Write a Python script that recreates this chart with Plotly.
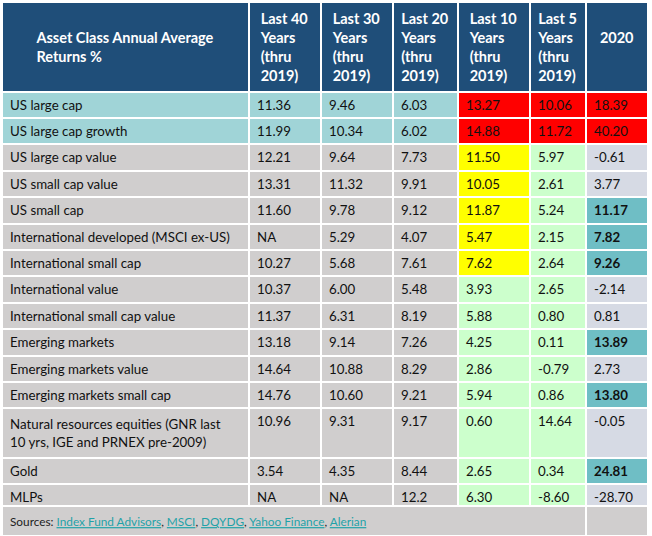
import plotly.graph_objects as go

# table data
asset_classes = [
    "US large cap", "US large cap growth", "US large cap value", "US small cap value",
    "US small cap", "International developed (MSCI ex-US)", "International small cap",
    "International value", "International small cap value", "Emerging markets",
    "Emerging markets value", "Emerging markets small cap",
    "Natural resources equities (GNR last<br>10 yrs, IGE and PRNEX pre-2009)",
    "Gold", "MLPs",
]
last40 = ["11.36", "11.99", "12.21", "13.31", "11.60", "NA", "10.27", "10.37", "11.37",
          "13.18", "14.64", "14.76", "10.96", "3.54", "NA"]
last30 = ["9.46", "10.34", "9.64", "11.32", "9.78", "5.29", "5.68", "6.00", "6.31",
          "9.14", "10.88", "10.60", "9.31", "4.35", "NA"]
last20 = ["6.03", "6.02", "7.73", "9.91", "9.12", "4.07", "7.61", "5.48", "8.19",
          "7.26", "8.29", "9.21", "9.17", "8.44", "12.2"]
last10 = ["13.27", "14.88", "11.50", "10.05", "11.87", "5.47", "7.62", "3.93", "5.88",
          "4.25", "2.86", "5.94", "0.60", "2.65", "6.30"]
last5 = ["10.06", "11.72", "5.97", "2.61", "5.24", "2.15", "2.64", "2.65", "0.80",
         "0.11", "-0.79", "0.86", "14.64", "0.34", "-8.60"]
y2020 = ["18.39", "40.20", "-0.61", "3.77", "11.17", "7.82", "9.26", "-2.14", "0.81",
         "13.89", "2.73", "13.80", "-0.05", "24.81", "-28.70"]

headers = ["\u00a0<br>Asset Class Annual Average<br>Returns %",
           "Last 40<br>Years<br>(thru<br>2019)", "Last 30<br>Years<br>(thru<br>2019)",
           "Last 20<br>Years<br>(thru<br>2019)", "Last 10<br>Years<br>(thru<br>2019)",
           "Last 5<br>Years<br>(thru<br>2019)", "\u00a0<br>2020"]

sources = ["Index Fund Advisors", "MSCI", "DQYDG", "Yahoo Finance", "Alerian"]

# styling
navy = "#1F4E79"
light_teal = "#A0D4D7"
gray = "#D0CECE"
red = "#FF0000"
yellow = "#FFFF00"
green = "#CCFFCC"
lavender = "#D6DAE4"
teal = "#6FBEC5"
link = "#1FA2A8"

top_rows = 2          # rows shaded teal / red
yellow_rows = 7       # "Last 10" rows shaded yellow
bold_2020 = [4, 5, 6, 9, 11, 13]

n = len(asset_classes)
base_fill = [light_teal if i < top_rows else gray for i in range(n)]
fill10 = [red if i < top_rows else (yellow if i < yellow_rows else green) for i in range(n)]
fill5 = [red if i < top_rows else green for i in range(n)]
fill20 = [red if i < top_rows else (teal if i in bold_2020 else lavender) for i in range(n)]
normal = ["normal"] * n
weight2020 = ["bold" if i in bold_2020 else "normal" for i in range(n)]

font_family = "Lato, Carlito, Calibri, sans-serif"
split = 30 / 536  # sources row at the bottom

fig = go.Figure()
fig.add_trace(go.Table(
    domain={"x": [0, 1], "y": [split, 1]},
    columnwidth=[247, 72, 72, 65, 72, 56, 62],
    header={
        "values": headers,
        "fill": {"color": navy},
        "line": {"color": "white", "width": 2},
        "align": "center",
        "font": {"family": font_family, "size": 14.5, "color": "white", "weight": "bold"},
        "height": 88,
    },
    cells={
        "values": [asset_classes, last40, last30, last20, last10, last5, y2020],
        "fill": {"color": [base_fill, base_fill, base_fill, base_fill, fill10, fill5, fill20]},
        "line": {"color": "white", "width": 2},
        "align": "left",
        "font": {"family": font_family, "size": 13.3, "color": "#111111"},
        "height": 26.4,
    },
))
# per-cell bold for the 2020 column (plotly.js picks font per cell, validator only allows 1D)
fig._data[0]["cells"]["font"]["weight"] = [normal] * 6 + [weight2020]

# trailing <br> keeps plotly from word-wrapping (and breaking) the styled spans
src_text = "Sources: " + ", ".join(
    "<span style='color:%s;text-decoration:underline'>%s</span>" % (link, s) for s in sources
) + "<br>"

# footer row drawn as the header of a second, two-column table
fig.add_trace(go.Table(
    domain={"x": [0, 1], "y": [0, split]},
    columnwidth=[584, 62],
    header={
        "values": [src_text, ""],
        "fill": {"color": gray},
        "line": {"color": "white", "width": 2},
        "align": "left",
        "font": {"family": font_family, "size": 11.8, "color": "#222222"},
        "height": 25,
    },
    cells={"values": [[], []]},
))

fig.update_layout(
    width=652, height=536,
    margin={"l": 2, "r": 4, "t": 2, "b": 0},
    paper_bgcolor="white",
)
fig.write_html("out.html", config={"displayModeBar": False},
               post_script="document.body.style.margin = '0px';")
